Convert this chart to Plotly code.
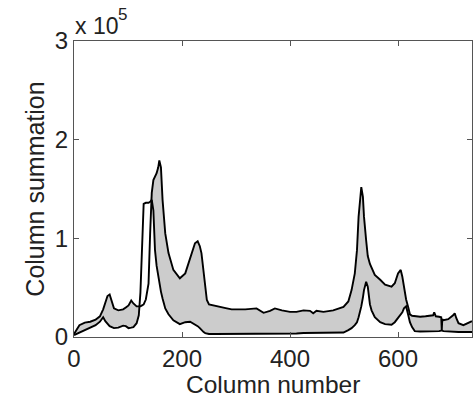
import numpy as np
import plotly.graph_objects as go

# Column index (x) shared by both series
COLUMNS = [0, 10, 20, 30, 40, 48, 54, 58, 62, 66, 70, 74, 82, 91, 96, 101, 106, 110, 116, 120,
           123, 126, 129, 133, 138, 141, 144, 147, 150, 153, 156, 158, 161, 164, 169, 175, 184, 196,
           206, 215, 224, 229, 233, 236, 240, 243, 246, 250, 261, 270, 283, 292, 304, 317, 338, 351,
           363, 372, 385, 400, 412, 425, 437, 443, 449, 462, 480, 499, 508, 514, 520, 524, 527, 530,
           532, 535, 537, 541, 544, 548, 551, 557, 567, 576, 588, 594, 600, 605, 608, 611, 615, 619,
           622, 626, 631, 641, 651, 665, 667, 670, 676, 680, 681, 682, 684, 693, 702, 705, 708, 712,
           721, 730, 737]

# Column summation, in units of 10^5
SUM_A = [0.03, 0.12, 0.145, 0.155, 0.175, 0.21, 0.28, 0.34, 0.415, 0.43, 0.36, 0.29, 0.27, 0.28, 0.30, 0.32, 0.37, 0.34, 0.31, 0.31,
         0.31, 0.32, 0.33, 0.38, 0.54, 1.05, 1.46, 1.59, 1.62, 1.66, 1.72, 1.79, 1.72, 1.39, 1.05, 0.85, 0.68, 0.595,
         0.645, 0.81, 0.95, 0.97, 0.92, 0.85, 0.68, 0.51, 0.375, 0.33, 0.315, 0.30, 0.29, 0.28, 0.28, 0.28, 0.29, 0.245,
         0.265, 0.29, 0.27, 0.255, 0.255, 0.27, 0.265, 0.24, 0.265, 0.255, 0.27, 0.305, 0.36, 0.475, 0.645, 0.88, 1.22, 1.455,
         1.52, 1.42, 1.22, 0.98, 0.82, 0.74, 0.70, 0.63, 0.58, 0.53, 0.51, 0.545, 0.645, 0.68, 0.61, 0.50, 0.38, 0.30,
         0.23, 0.215, 0.21, 0.205, 0.21, 0.22, 0.25, 0.21, 0.205, 0.20, 0.07, 0.18, 0.17, 0.18, 0.22, 0.24, 0.19, 0.14,
         0.12, 0.14, 0.16]

SUM_B = [0.02, 0.045, 0.07, 0.09, 0.12, 0.155, 0.20, 0.16, 0.13, 0.11, 0.10, 0.09, 0.095, 0.115, 0.11, 0.09, 0.095, 0.10, 0.14, 0.22,
         0.45, 1.00, 1.35, 1.36, 1.36, 1.37, 1.39, 1.28, 0.88, 0.72, 0.61, 0.53, 0.46, 0.39, 0.29, 0.23, 0.17, 0.13,
         0.15, 0.155, 0.13, 0.11, 0.09, 0.07, 0.05, 0.04, 0.035, 0.03, 0.03, 0.03, 0.03, 0.03, 0.03, 0.03, 0.035, 0.035,
         0.035, 0.035, 0.035, 0.035, 0.035, 0.04, 0.04, 0.04, 0.04, 0.04, 0.04, 0.045, 0.07, 0.09, 0.12, 0.15, 0.20, 0.26,
         0.31, 0.40, 0.475, 0.56, 0.51, 0.33, 0.27, 0.20, 0.15, 0.13, 0.125, 0.15, 0.19, 0.22, 0.25, 0.29, 0.31, 0.22,
         0.15, 0.10, 0.06, 0.055, 0.055, 0.055, 0.055, 0.055, 0.06, 0.065, 0.07, 0.065, 0.06, 0.055, 0.055, 0.055, 0.05, 0.05,
         0.05, 0.05, 0.05]

X_TICKS = [0, 200, 400, 600]
Y_TICKS = [0, 1, 2, 3]

FONT = "Liberation Sans, Arial, sans-serif"
AXIS_COL = "#555555"
TXT_COL = "#222222"

a = np.array(SUM_A)
b = np.array(SUM_B)
upper = np.maximum(a, b)

fig = go.Figure()
# fill region (where A lies above B)
fig.add_trace(go.Scatter(x=COLUMNS, y=b, mode="lines", line=dict(width=0, color="rgba(0,0,0,0)"),
                         showlegend=False, hoverinfo="skip"))
fig.add_trace(go.Scatter(x=COLUMNS, y=upper, mode="lines", line=dict(width=0, color="rgba(0,0,0,0)"),
                         fill="tonexty", fillcolor="#cccccc", showlegend=False, hoverinfo="skip"))
# the two curves
fig.add_trace(go.Scatter(x=COLUMNS, y=SUM_A, mode="lines", line=dict(color="black", width=1.9),
                         showlegend=False))
fig.add_trace(go.Scatter(x=COLUMNS, y=SUM_B, mode="lines", line=dict(color="black", width=1.9),
                         showlegend=False))

fig.update_layout(
    width=473, height=397,
    margin=dict(l=74, r=1, t=41, b=60),
    paper_bgcolor="white", plot_bgcolor="white",
    font=dict(family=FONT, color=TXT_COL),
    xaxis=dict(range=[0, 737], tickvals=X_TICKS, ticktext=[str(v) for v in X_TICKS],
               ticks="inside", ticklen=5, tickcolor=AXIS_COL, tickwidth=1,
               showline=True, linecolor=AXIS_COL, linewidth=1.3, mirror="allticks",
               showgrid=False, zeroline=False, tickfont=dict(size=24, color=TXT_COL)),
    yaxis=dict(range=[0, 3], tickvals=Y_TICKS, ticktext=[str(v) for v in Y_TICKS],
               ticks="inside", ticklen=5, tickcolor=AXIS_COL, tickwidth=1,
               showline=True, linecolor=AXIS_COL, linewidth=1.3, mirror="allticks",
               showgrid=False, zeroline=False, tickfont=dict(size=24, color=TXT_COL),
               title=dict(text="Column summation", font=dict(size=25, color=TXT_COL), standoff=2)),
    annotations=[
        dict(text="Column number", xref="paper", yref="paper", x=0.5, y=0,
             xanchor="center", yanchor="top", showarrow=False, yshift=-32,
             font=dict(size=24.5, color=TXT_COL, family=FONT)),
        dict(text="x 10", xref="paper", yref="paper", x=0, y=1,
             xanchor="left", yanchor="bottom", showarrow=False, xshift=-1, yshift=0,
             font=dict(size=23, color=TXT_COL, family=FONT)),
        dict(text="5", xref="paper", yref="paper", x=0, y=1,
             xanchor="left", yanchor="bottom", showarrow=False, xshift=42, yshift=15,
             font=dict(size=17, color=TXT_COL, family=FONT)),
    ],
)

fig.write_html("out.html")
